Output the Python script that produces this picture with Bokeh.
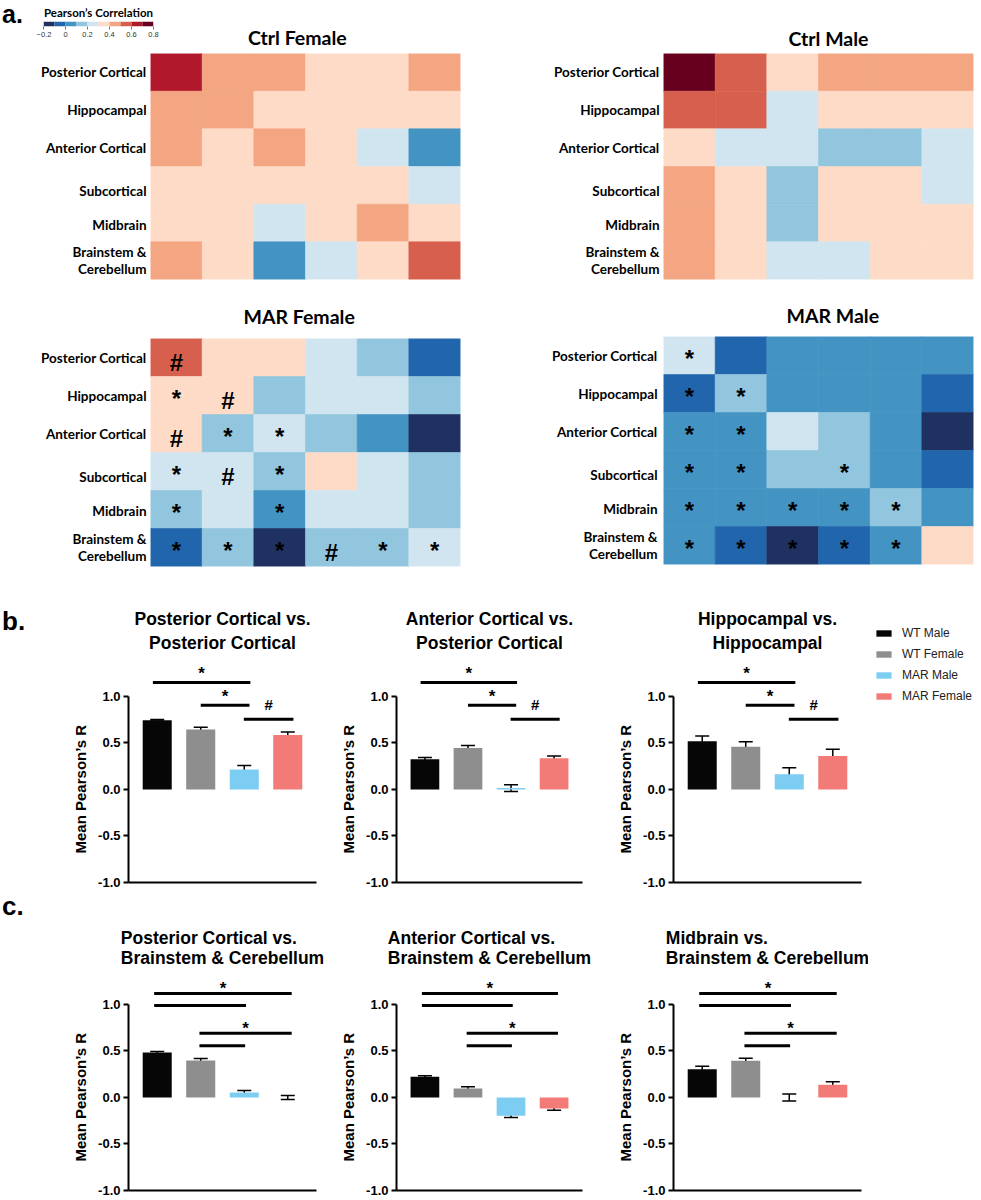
from bokeh.plotting import figure
from bokeh.models import (ColumnDataSource, Range1d, LinearColorMapper,
                          FixedTicker, NumeralTickFormatter, Whisker, TeeHead,
                          Legend, LegendItem, Spacer, Div, Title)
from bokeh.layouts import row, column
from bokeh.transform import transform
from bokeh.core.properties import value
from bokeh.embed import file_html
from bokeh.resources import INLINE

# ---------------- data ----------------
regions = ["Posterior Cortical", "Hippocampal", "Anterior Cortical",
           "Subcortical", "Midbrain", "Brainstem & Cerebellum"]

ctrl_female = [
    [0.65, 0.45, 0.45, 0.35, 0.35, 0.45],
    [0.45, 0.45, 0.35, 0.35, 0.35, 0.35],
    [0.45, 0.35, 0.45, 0.35, 0.25, 0.05],
    [0.35, 0.35, 0.35, 0.35, 0.35, 0.25],
    [0.35, 0.35, 0.25, 0.35, 0.45, 0.35],
    [0.45, 0.35, 0.05, 0.25, 0.35, 0.55],
]
ctrl_male = [
    [0.75, 0.55, 0.35, 0.45, 0.45, 0.45],
    [0.55, 0.55, 0.25, 0.35, 0.35, 0.35],
    [0.35, 0.25, 0.25, 0.15, 0.15, 0.25],
    [0.45, 0.35, 0.15, 0.35, 0.35, 0.25],
    [0.45, 0.35, 0.15, 0.35, 0.35, 0.35],
    [0.45, 0.35, 0.25, 0.25, 0.35, 0.35],
]
mar_female = [
    [0.55, 0.35, 0.35, 0.25, 0.15, -0.05],
    [0.35, 0.35, 0.15, 0.25, 0.25, 0.15],
    [0.35, 0.15, 0.25, 0.15, 0.05, -0.15],
    [0.25, 0.25, 0.15, 0.35, 0.25, 0.15],
    [0.15, 0.25, 0.05, 0.25, 0.25, 0.15],
    [-0.05, 0.15, -0.15, 0.15, 0.15, 0.25],
]
mar_male = [
    [0.25, -0.05, 0.05, 0.05, 0.05, 0.05],
    [-0.05, 0.15, 0.05, 0.05, 0.05, -0.05],
    [0.05, 0.05, 0.25, 0.15, 0.05, -0.15],
    [0.05, 0.05, 0.15, 0.15, 0.05, -0.05],
    [0.05, 0.05, 0.05, 0.05, 0.15, 0.05],
    [0.05, -0.05, -0.15, -0.05, 0.05, 0.35],
]
mar_female_marks = [
    ["#", "", "", "", "", ""],
    ["*", "#", "", "", "", ""],
    ["#", "*", "*", "", "", ""],
    ["*", "#", "*", "", "", ""],
    ["*", "", "*", "", "", ""],
    ["*", "*", "*", "#", "*", "*"],
]
mar_male_marks = [
    ["*", "", "", "", "", ""],
    ["*", "*", "", "", "", ""],
    ["*", "*", "", "", "", ""],
    ["*", "*", "", "*", "", ""],
    ["*", "*", "*", "*", "*", ""],
    ["*", "*", "*", "*", "*", ""],
]

cbar_low, cbar_high = -0.2, 0.8
cbar_ticks = [-0.2, 0, 0.2, 0.4, 0.6, 0.8]
cbar_tick_labels = ["\u22120.2", "0", "0.2", "0.4", "0.6", "0.8"]
palette = ["#1e3160", "#2166ac", "#4393c3", "#92c5de", "#d1e5f0",
           "#fddbc7", "#f4a582", "#d6604d", "#b2182b", "#67001f"]

groups = ["WT Male", "WT Female", "MAR Male", "MAR Female"]
bar_colors = ["#060606", "#8e8e8e", "#7dcdf2", "#f27b77"]
y_ticks = [-1.0, -0.5, 0.0, 0.5, 1.0]

pc_pc_mean = [0.745, 0.644, 0.215, 0.586]
pc_pc_sem = [0.008, 0.025, 0.043, 0.032]
ac_pc_mean = [0.325, 0.445, 0.015, 0.335]
ac_pc_sem = [0.018, 0.027, 0.036, 0.025]
hip_hip_mean = [0.52, 0.46, 0.164, 0.36]
hip_hip_sem = [0.054, 0.054, 0.07, 0.072]
pc_bc_mean = [0.483, 0.398, 0.054, 0.0]
pc_bc_sem = [0.012, 0.022, 0.022, 0.022]
ac_bc_mean = [0.222, 0.096, -0.196, -0.118]
ac_bc_sem = [0.012, 0.02, 0.018, 0.018]
mid_bc_mean = [0.305, 0.395, 0.0, 0.137]
mid_bc_sem = [0.03, 0.027, 0.038, 0.032]

# significance brackets: (x start, x end, height, symbol)
brackets_b = [(0.9, 3.14, 1.15, "*"), (2.0, 3.12, 0.905, "*"), (2.99, 4.13, 0.755, "#")]
brackets_c = [(0.93, 4.09, 1.118, "*"), (0.93, 3.04, 0.99, ""),
              (1.97, 4.09, 0.69, "*"), (1.97, 3.02, 0.557, "")]

mapper = LinearColorMapper(palette=palette, low=cbar_low, high=cbar_high)

HEAT_FONT = "Lato"
BAR_FONT = "Liberation Sans"


def text_div(txt, width, height, left, top, font, size, line_h):
    html = ('<div style="position:relative;left:%dpx;top:%.1fpx;font-family:\'%s\';'
            'font-weight:bold;font-size:%s;line-height:%s;white-space:nowrap;'
            'color:#000;">%s</div>' % (left, top, font, size, line_h, txt))
    return Div(text=html, width=width, height=height, margin=(0, 0, 0, 0),
               styles={"overflow": "visible"})


# label nudges (row units) for the heat-map region labels
label_nudge = [0.0, 0.0, 0.0, -0.14, -0.05, 0.0]
split_gap = 0.22


def heatmap(matrix, marks, width, height, bl, br, bt, bb, standoff,
            title=None, title_offset=0, title_standoff=10):
    n = len(regions)
    p = figure(width=width, height=height, x_range=Range1d(0, n),
               y_range=Range1d(0, n), output_backend="svg", toolbar_location=None,
               min_border_left=bl, min_border_right=br,
               min_border_top=bt, min_border_bottom=bb, x_axis_location=None)
    p.outline_line_color = None
    p.grid.visible = False
    xs, ys, vs = [], [], []
    for i in range(n):
        for j in range(n):
            xs.append(j + 0.5)
            ys.append(n - i - 0.5)
            vs.append(matrix[i][j])
    src = ColumnDataSource(dict(x=xs, y=ys, v=vs))
    p.rect(x="x", y="y", width=1, height=1, source=src,
           fill_color=transform("v", mapper), line_color=transform("v", mapper),
           line_width=0.6)
    if marks is not None:
        mx, my, mt, mo = [], [], [], []
        for i in range(n):
            for j in range(n):
                if marks[i][j]:
                    mx.append(j + 0.5)
                    my.append(n - i - 0.5)
                    mt.append(marks[i][j])
                    mo.append(4.5 if marks[i][j] == "#" else 3.0)
        msrc = ColumnDataSource(dict(x=mx, y=my, t=mt, o=mo))
        p.text(x="x", y="y", text="t", y_offset="o", source=msrc,
               text_font=value(BAR_FONT), text_font_style="bold",
               text_font_size="24px", text_align="center",
               text_baseline="alphabetic", text_color="black")
    ticks, overrides = [], {}
    for i, r in enumerate(regions):
        c = n - i - 0.5 + label_nudge[i]
        if " & " in r:
            a, b = r.split(" & ")
            t1, t2 = c + split_gap, c - split_gap
            ticks += [t1, t2]
            overrides[t1] = a + " &"
            overrides[t2] = b
        else:
            ticks.append(c)
            overrides[c] = r
    ax = p.yaxis[0]
    ax.ticker = FixedTicker(ticks=ticks)
    ax.major_label_overrides = overrides
    ax.axis_line_color = None
    ax.major_tick_line_color = None
    ax.minor_tick_line_color = None
    ax.major_tick_out = 0
    ax.major_tick_in = 0
    ax.minor_tick_out = 0
    ax.major_label_standoff = standoff
    ax.major_label_text_font = HEAT_FONT
    ax.major_label_text_font_style = "bold"
    ax.major_label_text_font_size = "13.5px"
    ax.major_label_text_color = "black"
    if title:
        p.title.text = title
        p.title.align = "left"
        p.title.offset = title_offset
        p.title.standoff = title_standoff
        p.title.text_font = HEAT_FONT
        p.title.text_font_style = "bold"
        p.title.text_font_size = "19.5px"
        p.title.text_color = "black"
    return p


def bar_chart(title_lines, title_ys, means, sems, brackets, width, bl, br,
              height, bt, bb, y_end, star_dy, hash_dy):
    p = figure(width=width, height=height, x_range=Range1d(0.34, 4.66),
               y_range=Range1d(-1.0, y_end), output_backend="svg",
               toolbar_location=None, min_border_left=bl, min_border_right=br,
               min_border_top=bt, min_border_bottom=bb)
    p.outline_line_color = None
    p.grid.visible = False
    src = ColumnDataSource(dict(
        x=[1, 2, 3, 4], top=means,
        lower=[m - s for m, s in zip(means, sems)],
        upper=[m + s for m, s in zip(means, sems)],
        color=bar_colors, group=groups))
    p.vbar(x="x", top="top", bottom=0, width=0.667, source=src,
           fill_color="color", line_color=None)
    p.add_layout(Whisker(base="x", upper="upper", lower="lower", source=src,
                         line_width=1.5, line_color="black",
                         upper_head=TeeHead(size=14, line_width=1.5, line_color="black"),
                         lower_head=TeeHead(size=14, line_width=1.5, line_color="black")))
    bsrc = ColumnDataSource(dict(x0=[b[0] for b in brackets], x1=[b[1] for b in brackets],
                                 y=[b[2] for b in brackets]))
    p.segment(x0="x0", y0="y", x1="x1", y1="y", source=bsrc,
              line_width=3, line_color="black")
    lx, ly, lt, lo, ls = [], [], [], [], []
    for b in brackets:
        if b[3]:
            lx.append((b[0] + b[1]) / 2)
            ly.append(b[2])
            lt.append(b[3])
            lo.append(hash_dy if b[3] == "#" else star_dy)
            ls.append("15px" if b[3] == "#" else "17px")
    lsrc = ColumnDataSource(dict(x=lx, y=ly, t=lt, o=lo, s=ls))
    p.text(x="x", y="y", text="t", y_offset="o", text_font_size="s", source=lsrc,
           text_font=value(BAR_FONT), text_font_style="bold",
           text_align="center", text_baseline="alphabetic", text_color="black")
    if title_ys is not None:
        # title drawn inside the plotting area (leaves room for the legend row)
        tsrc = ColumnDataSource(dict(x=[2.5] * len(title_lines), y=title_ys, t=title_lines))
        p.text(x="x", y="y", text="t", source=tsrc, text_font=value(BAR_FONT),
               text_font_style="bold", text_font_size="17.5px", text_align="center",
               text_baseline="middle", text_color="black")
    else:
        p.title.text = "\n".join(title_lines)
        p.title.align = "center"
        p.title.standoff = 2
        p.title.text_font = BAR_FONT
        p.title.text_font_style = "bold"
        p.title.text_font_size = "17.5px"
        p.title.text_color = "black"
    yax = p.yaxis[0]
    yax.ticker = FixedTicker(ticks=y_ticks)
    yax.formatter = NumeralTickFormatter(format="0.0")
    yax.bounds = (-1, 1)
    yax.axis_line_width = 2
    yax.axis_line_color = "black"
    yax.major_tick_line_width = 2
    yax.major_tick_line_color = "black"
    yax.major_tick_out = 5
    yax.major_tick_in = 0
    yax.minor_tick_line_color = None
    yax.major_label_standoff = 3
    yax.major_label_text_font = BAR_FONT
    yax.major_label_text_font_style = "bold"
    yax.major_label_text_font_size = "13px"
    yax.major_label_text_color = "black"
    p.add_layout(Title(text="Mean Pearson\u2019s R", align="left", offset=29,
                       standoff=14, text_font=BAR_FONT, text_font_style="bold",
                       text_font_size="15px", text_color="black"), "left")
    xax = p.xaxis[0]
    xax.ticker = FixedTicker(ticks=[])
    xax.axis_line_width = 2
    xax.axis_line_color = "black"
    xax.major_tick_line_color = None
    xax.minor_tick_line_color = None
    return p


# ---------------- section a (heat maps) ----------------
div_a = text_div("a.", 36, 48, 2, 0, BAR_FONT, "25px", "normal")

cbar = figure(width=140, height=48, x_range=Range1d(cbar_low, cbar_high),
              y_range=Range1d(0, 1), output_backend="svg", toolbar_location=None,
              min_border_left=7, min_border_right=23, min_border_top=18,
              min_border_bottom=22, y_axis_location=None)
cbar.outline_line_color = None
cbar.grid.visible = False
n_bins = len(palette)
step = (cbar_high - cbar_low) / n_bins
lefts = [cbar_low + k * step for k in range(n_bins)]
csrc = ColumnDataSource(dict(l=lefts, r=[v + step for v in lefts],
                             m=[v + step / 2 for v in lefts]))
cbar.quad(left="l", right="r", bottom=0, top=1, source=csrc,
          fill_color=transform("m", mapper), line_color=None)
cbar.title.text = "Pearson\u2019s Correlation"
cbar.title.align = "center"
cbar.title.standoff = 6
cbar.title.text_font = HEAT_FONT
cbar.title.text_font_style = "bold"
cbar.title.text_font_size = "11.5px"
cbar.title.text_color = "black"
cax = cbar.xaxis[0]
cax.ticker = FixedTicker(ticks=cbar_ticks)
cax.major_label_overrides = dict(zip(cbar_ticks, cbar_tick_labels))
cax.axis_line_color = None
cax.major_tick_line_color = "#777777"
cax.major_tick_out = 3
cax.major_tick_in = 0
cax.minor_tick_line_color = None
cax.major_label_standoff = 2
cax.major_label_text_font = BAR_FONT
cax.major_label_text_font_size = "7.5px"
cax.major_label_text_color = "#333333"

div_cf = text_div("Ctrl Female", 304, 48, 72, 27.7, HEAT_FONT, "19.5px", "19.5px")

fig_cf = heatmap(ctrl_female, None, 480, 243, 150, 20, 5, 12, 4)
fig_mf = heatmap(mar_female, mar_female_marks, 480, 284, 150, 20, 47, 9, 4,
                 title="MAR Female", title_offset=93, title_standoff=21)
fig_cm = heatmap(ctrl_male, None, 499, 291, 183, 6, 53, 12, 4,
                 title="Ctrl Male", title_offset=125, title_standoff=8)
fig_mm = heatmap(mar_male, mar_male_marks, 499, 284, 183, 6, 45, 11, 6,
                 title="MAR Male", title_offset=123, title_standoff=20)

sec_a = row(column(row(div_a, cbar, div_cf), fig_cf, fig_mf),
            column(fig_cm, fig_mm))

# ---------------- section b ----------------
title_b_y = [1.828, 1.57]
div_b = text_div("b.", 36, 316, 2, 33, BAR_FONT, "26px", "26px")
b1 = bar_chart(["Posterior Cortical vs.", "Posterior Cortical"], title_b_y,
               pc_pc_mean, pc_pc_sem, brackets_b, 294, 92, 14, 316, 33, 9,
               1.946, -8.7, -14.7)
b2 = bar_chart(["Anterior Cortical vs.", "Posterior Cortical"], title_b_y,
               ac_pc_mean, ac_pc_sem, brackets_b, 276, 64, 24, 316, 33, 9,
               1.946, -8.7, -14.7)
b3 = bar_chart(["Hippocampal vs.", "Hippocampal"], title_b_y,
               hip_hip_mean, hip_hip_sem, brackets_b, 262, 67, 7, 316, 33, 9,
               1.946, -8.7, -14.7)

leg = figure(width=110, height=316, x_range=Range1d(0, 1), y_range=Range1d(0, 1),
             output_backend="svg", toolbar_location=None, min_border_left=0,
             min_border_right=0, min_border_top=33, min_border_bottom=9,
             x_axis_location=None, y_axis_location=None)
leg.outline_line_color = None
leg.grid.visible = False
# legend proxy: one zero-height bar per group, placed outside the visible range
leg_src = ColumnDataSource(dict(x=[-1.0] * len(groups), top=[0.0] * len(groups),
                                color=bar_colors, group=groups))
leg_r = leg.vbar(x="x", top="top", bottom=0, width=0.1, source=leg_src,
                 fill_color="color", line_color=None)
items = [LegendItem(label=g, renderers=[leg_r], index=k) for k, g in enumerate(groups)]
legend = Legend(items=items, location=(6, 179), padding=0, margin=0,
                spacing=7, glyph_width=19, glyph_height=8, label_height=14,
                label_standoff=9, label_text_font=BAR_FONT,
                label_text_font_size="12px", label_text_color="#222222",
                border_line_color=None, background_fill_alpha=0)
leg.add_layout(legend)

sec_b = row(div_b, b1, b2, b3, leg)

# ---------------- section c ----------------
div_c = text_div("c.", 36, 308, 2, 2, BAR_FONT, "26px", "26px")
c1 = bar_chart(["Posterior Cortical vs.", "Brainstem & Cerebellum"], None,
               pc_bc_mean, pc_bc_sem, brackets_c, 294, 92, 14, 308, 77, 9,
               1.387, -4.8, -10)
c2 = bar_chart(["Anterior Cortical vs.", "Brainstem & Cerebellum"], None,
               ac_bc_mean, ac_bc_sem, brackets_c, 276, 64, 24, 308, 77, 9,
               1.387, -4.8, -10)
c3 = bar_chart(["Midbrain vs.", "Brainstem & Cerebellum"], None,
               mid_bc_mean, mid_bc_sem, brackets_c, 262, 67, 7, 308, 77, 9,
               1.387, -4.8, -10)
sec_c = row(div_c, c1, c2, c3, Spacer(width=110, height=308))

layout = column(sec_a, sec_b, sec_c)

open("out.html", "w").write(file_html(layout, INLINE))
